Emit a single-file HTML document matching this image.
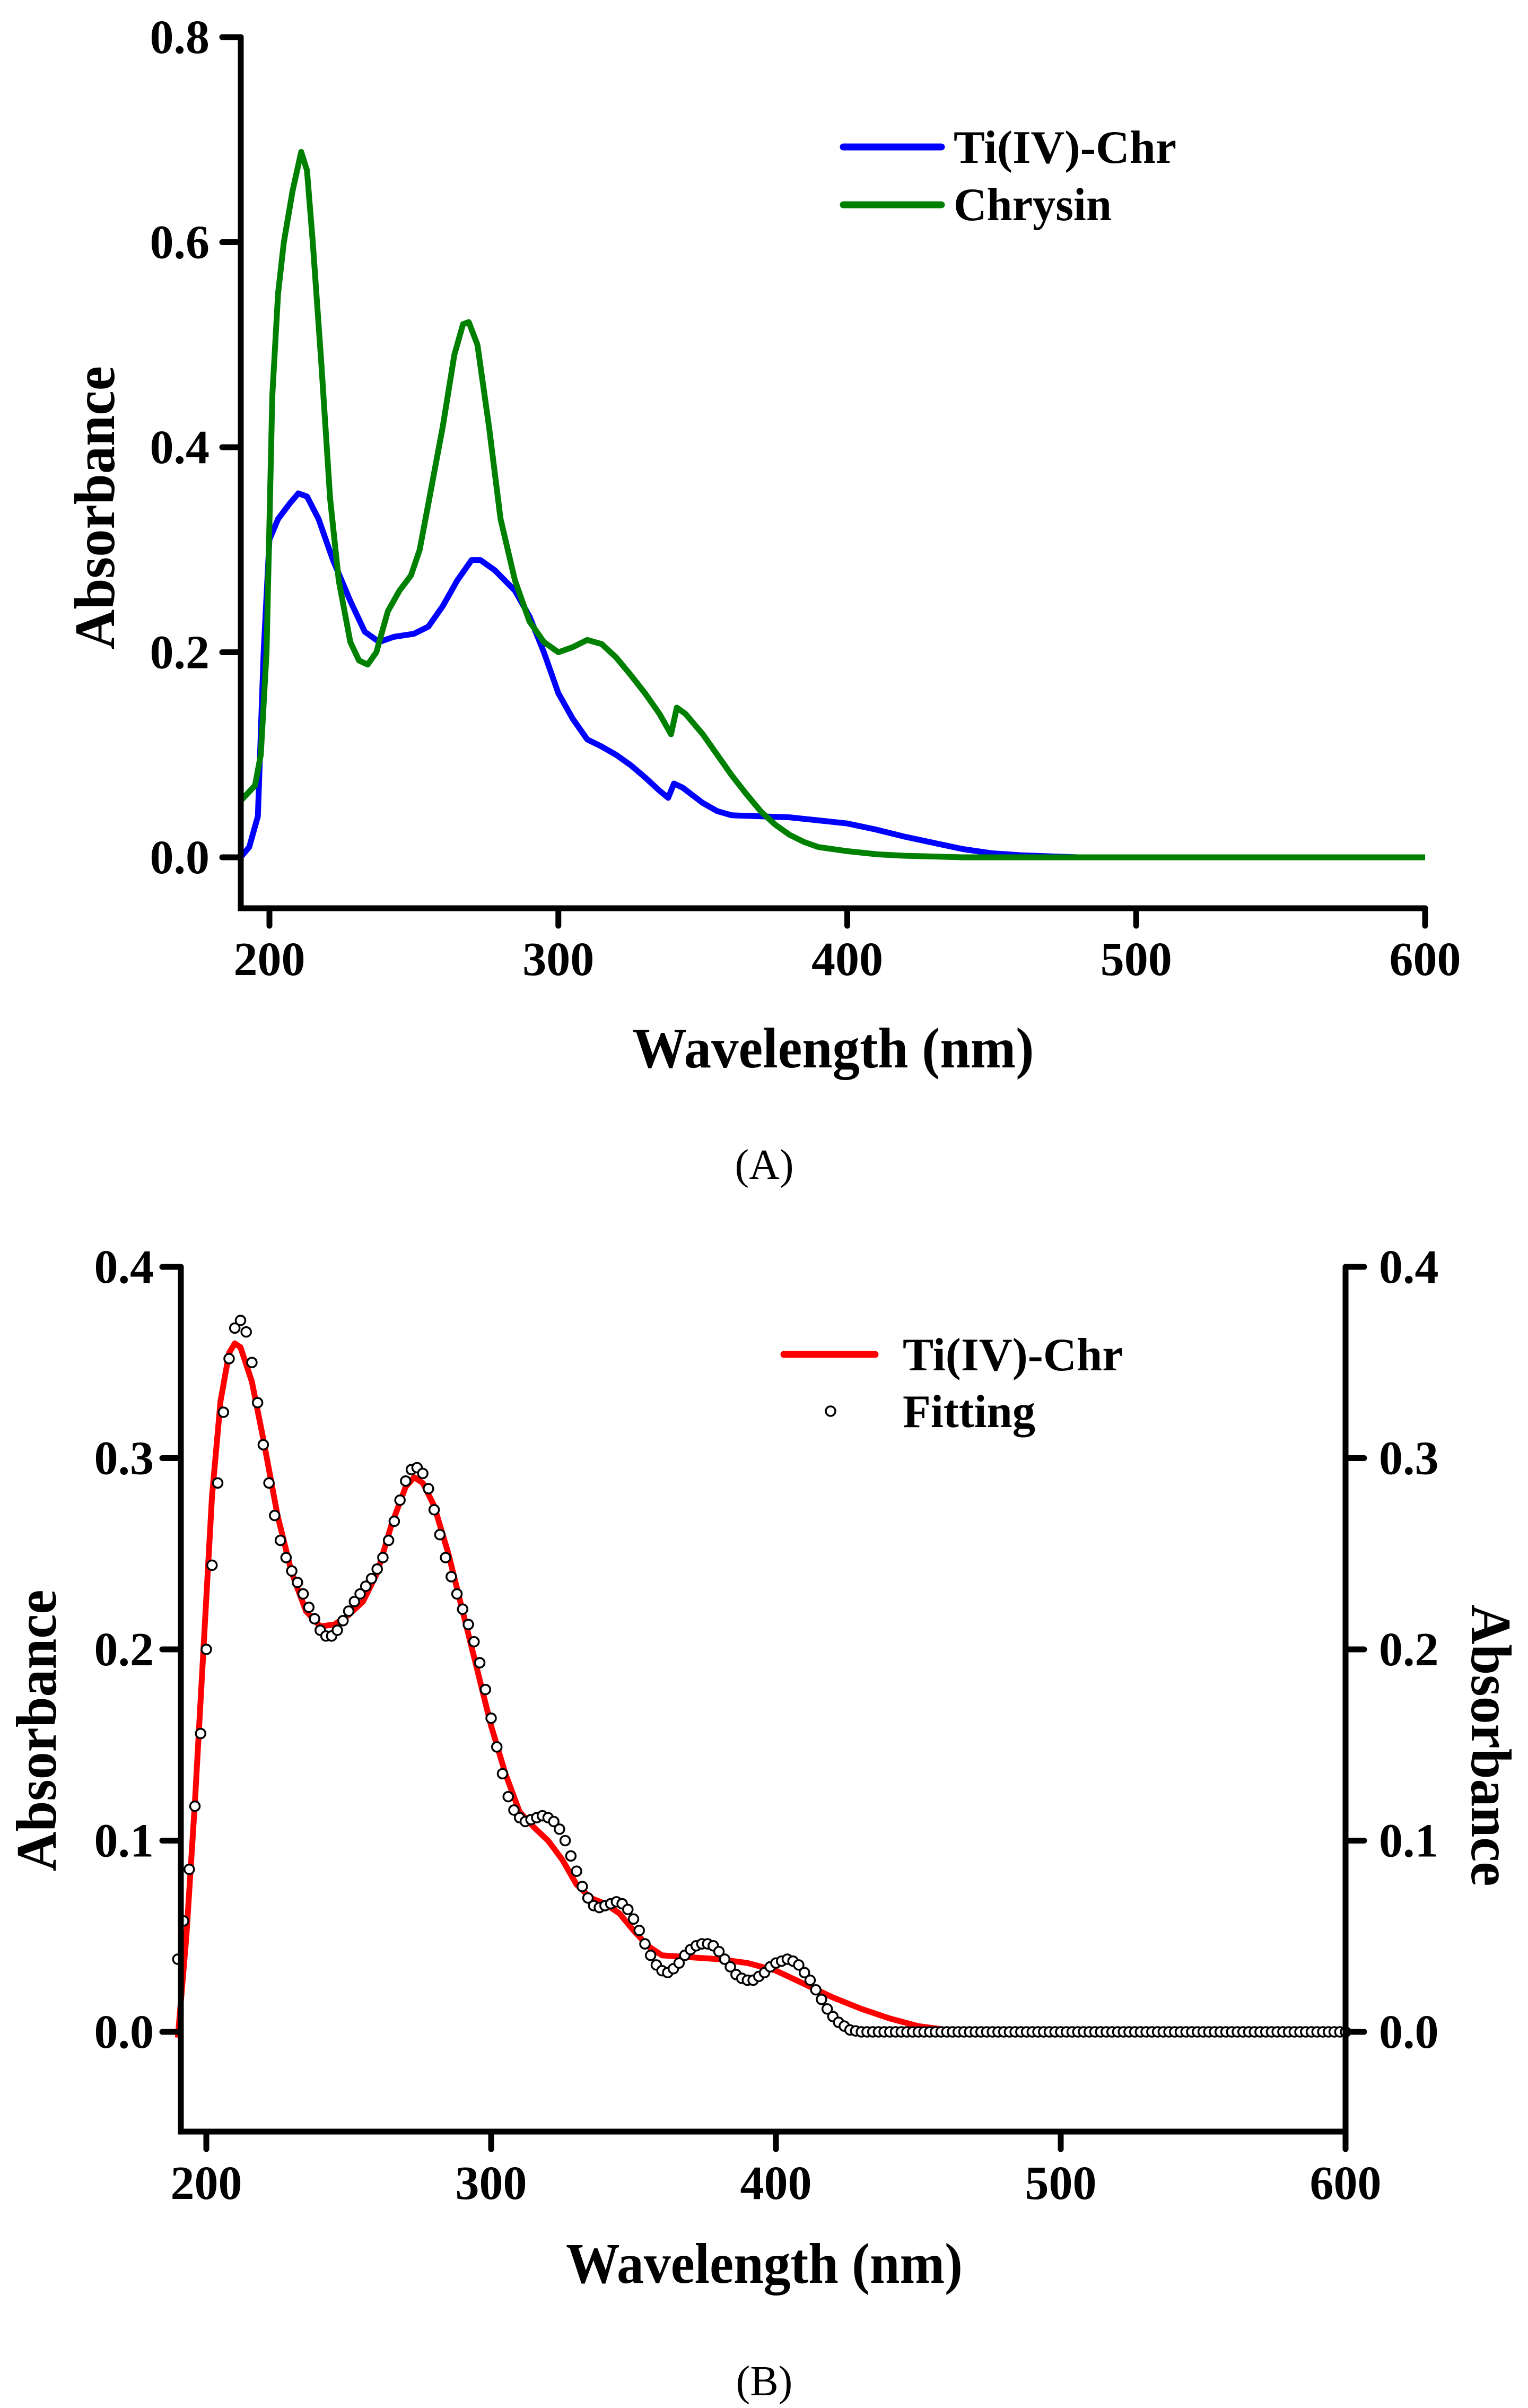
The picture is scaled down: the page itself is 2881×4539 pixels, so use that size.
<!DOCTYPE html>
<html><head><meta charset="utf-8"><style>
html,body{margin:0;padding:0;background:#fff;}
svg{display:block;}
text{font-family:"Liberation Serif","Times New Roman",serif;font-weight:bold;fill:#000;}
text.nb{font-weight:normal;}
</style></head><body>
<svg id="fig" width="2881" height="4539" viewBox="0 0 2881 4539" xmlns="http://www.w3.org/2000/svg">
<g id="chartA"></g>
<g id="chartB"></g>
</svg>
<script>
// ---- Chart A data ----
const tiWl = [190,193,196,198,200,203,207,210,213,217,222,228,233,238,243,250,255,260,265,270,273,278,285,290,295,300,305,310,315,320,325,330,335,338,340,343,350,355,360,370,380,390,400,410,420,430,440,450,460,470,480,600];
const tiAbs = [0.0,0.01,0.04,0.2,0.31,0.33,0.345,0.355,0.352,0.33,0.29,0.25,0.22,0.21,0.215,0.218,0.225,0.245,0.27,0.29,0.29,0.28,0.26,0.235,0.2,0.16,0.135,0.115,0.108,0.1,0.09,0.078,0.065,0.058,0.072,0.068,0.053,0.045,0.041,0.04,0.039,0.036,0.033,0.027,0.02,0.014,0.008,0.004,0.002,0.001,0.0,0.0];
const chrWl = [190,195,197,199,201,203,205,208,211,213,215,218,221,224,228,231,234,237,241,245,249,252,256,260,264,267,269,272,276,280,285,290,295,300,305,310,315,320,325,330,335,339,341,344,350,355,360,365,370,375,380,385,390,400,410,420,440,600];
const chrAbs = [0.055,0.07,0.1,0.2,0.45,0.55,0.6,0.65,0.688,0.67,0.6,0.48,0.35,0.27,0.21,0.192,0.188,0.2,0.24,0.26,0.275,0.3,0.36,0.42,0.49,0.52,0.522,0.5,0.42,0.33,0.27,0.23,0.21,0.2,0.205,0.212,0.208,0.195,0.178,0.16,0.14,0.12,0.146,0.14,0.12,0.1,0.08,0.062,0.045,0.032,0.022,0.015,0.01,0.006,0.003,0.0015,0.0,0.0];
const aYTicks = [0.0,0.2,0.4,0.6,0.8];
const aYLabels = ["0.0","0.2","0.4","0.6","0.8"];
const xTicks = [200,300,400,500,600];
const xLabels = ["200","300","400","500","600"];
// ---- Chart B data ----
const redWl = [190,193,196,199,202,205,208,210,212,216,220,225,230,235,240,245,250,255,260,265,270,273,276,280,285,290,295,300,305,310,315,320,325,330,335,340,345,350,355,360,370,380,390,400,410,420,430,440,450,460,470,600];
const redAbs = [-0.003,0.05,0.12,0.2,0.28,0.33,0.355,0.36,0.358,0.34,0.31,0.27,0.24,0.22,0.212,0.213,0.218,0.225,0.24,0.265,0.285,0.29,0.287,0.275,0.25,0.22,0.19,0.16,0.135,0.115,0.107,0.1,0.09,0.077,0.07,0.067,0.062,0.053,0.045,0.04,0.039,0.038,0.036,0.032,0.025,0.018,0.012,0.007,0.003,0.001,0.0,0.0];
const fitStart = 190;
const fitStep = 2;
const fitAbs = [0.038,0.058,0.085,0.118,0.156,0.2,0.244,0.287,0.324,0.352,0.368,0.372,0.366,0.35,0.329,0.307,0.287,0.27,0.257,0.248,0.241,0.235,0.229,0.222,0.216,0.21,0.207,0.207,0.21,0.215,0.22,0.225,0.229,0.233,0.237,0.242,0.248,0.257,0.267,0.278,0.288,0.294,0.295,0.292,0.284,0.273,0.26,0.248,0.238,0.229,0.221,0.213,0.204,0.193,0.179,0.164,0.149,0.135,0.123,0.116,0.112,0.11,0.111,0.112,0.113,0.112,0.11,0.106,0.1,0.092,0.084,0.076,0.07,0.066,0.065,0.066,0.067,0.068,0.067,0.064,0.059,0.053,0.046,0.04,0.035,0.032,0.031,0.033,0.036,0.04,0.043,0.045,0.046,0.046,0.045,0.042,0.038,0.034,0.03,0.028,0.027,0.027,0.029,0.031,0.034,0.036,0.037,0.038,0.037,0.035,0.031,0.027,0.022,0.017,0.012,0.008,0.005,0.003,0.001,0.0005,0,0,0,0,0,0,0,0,0,0,0,0,0,0,0,0,0,0,0,0,0,0,0,0,0,0,0,0,0,0,0,0,0,0,0,0,0,0,0,0,0,0,0,0,0,0,0,0,0,0,0,0,0,0,0,0,0,0,0,0,0,0,0,0,0,0,0,0,0,0,0,0,0,0,0,0,0,0,0,0,0,0,0,0,0,0,0,0,0,0,0,0,0,0,0,0,0,0,0,0,0,0,0,0,0];
const bYTicks = [0.0,0.1,0.2,0.3,0.4];
const bYLabels = ["0.0","0.1","0.2","0.3","0.4"];

const NS = "http://www.w3.org/2000/svg";
function mk(parent, tag, attrs, txt){
  const e = document.createElementNS(NS, tag);
  for (const k in attrs) e.setAttribute(k, attrs[k]);
  if (txt !== undefined) e.textContent = txt;
  parent.appendChild(e);
  return e;
}
function pathFrom(xs, ys, sx, sy){
  let d = "";
  for (let i = 0; i < xs.length; i++) d += (i ? "L" : "M") + sx(xs[i]).toFixed(1) + " " + sy(ys[i]).toFixed(1);
  return d;
}

// ===== Chart A =====
(function(){
  const g = document.getElementById("chartA");
  const sx = v => 508 + (v - 200) * 5.4475;
  const sy = v => 1616 - v * 1932.5;
  const left = 454, right = sx(600), bottom = 1712, top = sy(0.8);
  let p = mk(g, "path", {d: pathFrom(tiWl, tiAbs, sx, sy), fill:"none", stroke:"#0000ff", "stroke-width":11, "stroke-linejoin":"round"});
  
  
  p = mk(g, "path", {d: pathFrom(chrWl, chrAbs, sx, sy), fill:"none", stroke:"#008000", "stroke-width":11, "stroke-linejoin":"round"});
  
  
  let a = mk(g, "path", {d:`M${left} ${top}V${bottom}H${right}`, fill:"none", stroke:"#000", "stroke-width":11, "stroke-linecap":"round"});
  
  
  aYTicks.forEach((v,i) => {
    const t = mk(g, "line", {x1:left-35, x2:left, y1:sy(v), y2:sy(v), stroke:"#000", "stroke-width":11, "stroke-linecap":"round"});
    
    
    const l = mk(g, "text", {x:395, y:sy(v)+30, "text-anchor":"end", "font-size":90}, aYLabels[i]);
    
    
  });
  xTicks.forEach((v,i) => {
    const t = mk(g, "line", {x1:sx(v), x2:sx(v), y1:bottom, y2:bottom+33, stroke:"#000", "stroke-width":11, "stroke-linecap":"round"});
    
    
    const l = mk(g, "text", {x:sx(v), y:1838, "text-anchor":"middle", "font-size":90}, xLabels[i]);
    
    
  });
  let t = mk(g, "text", {x:1571, y:2012, "text-anchor":"middle", "font-size":108, textLength:757, lengthAdjust:"spacingAndGlyphs"}, "Wavelength (nm)");
  
  
  t = mk(g, "text", {x:0, y:0, "text-anchor":"middle", "font-size":108, textLength:534, lengthAdjust:"spacingAndGlyphs", transform:"translate(215 957) rotate(-90)"}, "Absorbance");
  
  
  t = mk(g, "text", {x:1441, y:2222, "text-anchor":"middle", "font-size":80, "class":"nb"}, "(A)");
  
  
  let lg = mk(g, "line", {x1:1590, x2:1775, y1:277, y2:277, stroke:"#0000ff", "stroke-width":13, "stroke-linecap":"round"});
  
  
  lg = mk(g, "text", {x:1798, y:307, "font-size":88, textLength:420, lengthAdjust:"spacingAndGlyphs"}, "Ti(IV)-Chr");
  
  
  lg = mk(g, "line", {x1:1590, x2:1775, y1:386, y2:386, stroke:"#008000", "stroke-width":13, "stroke-linecap":"round"});
  
  
  lg = mk(g, "text", {x:1798, y:415, "font-size":88, textLength:298, lengthAdjust:"spacingAndGlyphs"}, "Chrysin");
  
  
})();

// ===== Chart B =====
(function(){
  const g = document.getElementById("chartB");
  const sx = v => 389 + (v - 200) * 5.37;
  const sy = v => 3830 - v * 3605;
  const left = 341, right = sx(600), bottom = 4018, top = sy(0.4);
  let p = mk(g, "path", {d: pathFrom(redWl, redAbs, sx, sy), fill:"none", stroke:"#ff0000", "stroke-width":11, "stroke-linejoin":"round"});
  
  
  fitAbs.forEach((v,i) => {
    const w = fitStart + i * fitStep;
    if (w > 600) return;
    const c = mk(g, "circle", {cx:sx(w), cy:sy(v), r:9, fill:"#fff", stroke:"#000", "stroke-width":3.5});
    
    
  });
  let a = mk(g, "path", {d:`M${left} ${top}V${bottom}H${right}V${top}`, fill:"none", stroke:"#000", "stroke-width":11, "stroke-linecap":"round"});
  
  
  bYTicks.forEach((v,i) => {
    let t = mk(g, "line", {x1:left-35, x2:left, y1:sy(v), y2:sy(v), stroke:"#000", "stroke-width":11, "stroke-linecap":"round"});
    
    
    t = mk(g, "line", {x1:right, x2:right+35, y1:sy(v), y2:sy(v), stroke:"#000", "stroke-width":11, "stroke-linecap":"round"});
    
    
    let l = mk(g, "text", {x:290, y:sy(v)+30, "text-anchor":"end", "font-size":90}, bYLabels[i]);
    
    
    l = mk(g, "text", {x:2600, y:sy(v)+30, "text-anchor":"start", "font-size":90}, bYLabels[i]);
    
    
  });
  xTicks.forEach((v,i) => {
    const t = mk(g, "line", {x1:sx(v), x2:sx(v), y1:bottom, y2:bottom+33, stroke:"#000", "stroke-width":11, "stroke-linecap":"round"});
    
    
    const l = mk(g, "text", {x:sx(v), y:4145, "text-anchor":"middle", "font-size":90}, xLabels[i]);
    
    
  });
  let t = mk(g, "text", {x:1441, y:4303, "text-anchor":"middle", "font-size":108, textLength:748, lengthAdjust:"spacingAndGlyphs"}, "Wavelength (nm)");
  
  
  t = mk(g, "text", {x:0, y:0, "text-anchor":"middle", "font-size":108, textLength:531, lengthAdjust:"spacingAndGlyphs", transform:"translate(105 3262) rotate(-90)"}, "Absorbance");
  
  
  t = mk(g, "text", {x:0, y:0, "text-anchor":"middle", "font-size":108, textLength:531, lengthAdjust:"spacingAndGlyphs", transform:"translate(2775 3290) rotate(90)"}, "Absorbance");
  
  
  t = mk(g, "text", {x:1441, y:4515, "text-anchor":"middle", "font-size":80, "class":"nb"}, "(B)");
  
  
  let lg = mk(g, "line", {x1:1478, x2:1650, y1:2553, y2:2553, stroke:"#ff0000", "stroke-width":13, "stroke-linecap":"round"});
  
  
  lg = mk(g, "text", {x:1702, y:2583, "font-size":88, textLength:415, lengthAdjust:"spacingAndGlyphs"}, "Ti(IV)-Chr");
  
  
  lg = mk(g, "circle", {cx:1566, cy:2660, r:9, fill:"#fff", stroke:"#000", "stroke-width":3.5});
  
  
  lg = mk(g, "text", {x:1702, y:2690, "font-size":88, textLength:250, lengthAdjust:"spacingAndGlyphs"}, "Fitting");
  
  
})();
</script>
</body></html>
